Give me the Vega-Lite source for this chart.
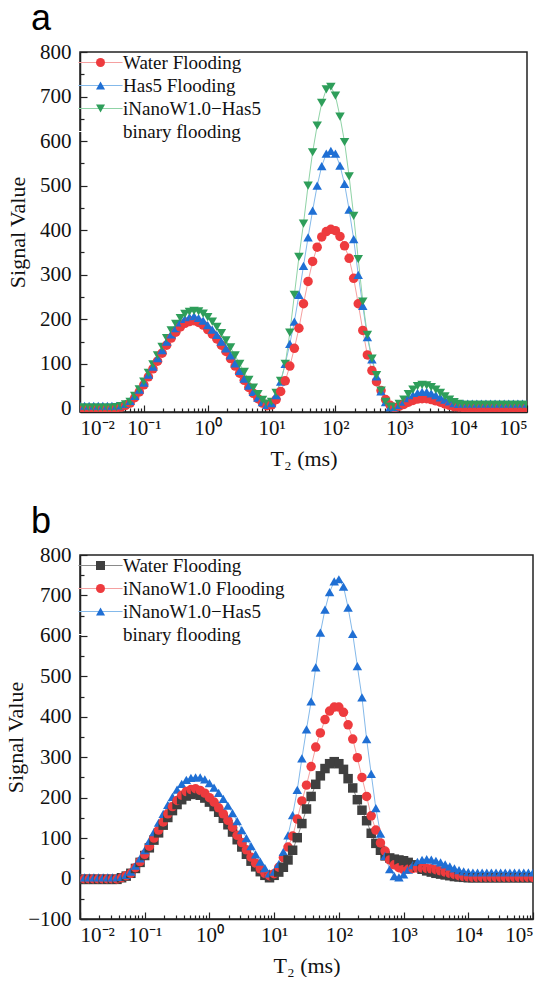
{
  "$schema": "https://vega.github.io/schema/vega-lite/v6.json",
  "padding": {"left": 3, "top": 0, "right": 0, "bottom": 0},
  "spacing": 33,
  "resolve": {
    "scale": {"x": "independent", "y": "independent", "color": "independent", "shape": "independent", "stroke": "independent"},
    "legend": {"color": "independent", "shape": "independent", "stroke": "independent"}
  },
  "config": {
    "view": {"stroke": "#222", "strokeWidth": 1.5},
    "font": "Liberation Serif",
    "title": {"font": "Liberation Sans", "fontSize": 36, "fontWeight": "normal", "color": "#000", "anchor": "start", "frame": "group", "baseline": "alphabetic", "dx": -49, "offset": 3},
    "axis": {"labelFont": "Liberation Serif", "labelFontSize": 21, "titleFont": "Liberation Serif", "titleFontSize": 22, "titleFontWeight": "normal", "labelColor": "#111", "titleColor": "#111", "domainColor": "#222", "tickColor": "#222", "domainWidth": 1.5, "tickWidth": 1.2, "grid": false},
    "legend": {"labelFont": "Liberation Serif", "labelFontSize": 19, "labelColor": "#111", "labelLimit": 0, "title": null, "padding": 0, "rowPadding": 3, "symbolSize": 81, "labelOffset": 13, "orient": "none", "legendX": 11, "legendY": 1}
  },
  "datasets": {
    "a": [
      {"t":0.01,"w":0,"h":6,"i":2},{"t":0.01179,"w":0,"h":6,"i":2},{"t":0.01389,"w":0,"h":6,"i":2},{"t":0.01638,"w":0,"h":6,"i":2},{"t":0.01931,"w":0,"h":6,"i":2},{"t":0.02276,"w":0,"h":6,"i":2},{"t":0.02683,"w":0,"h":6,"i":2},{"t":0.03162,"w":0,"h":6,"i":2},{"t":0.03728,"w":1,"h":6,"i":3},{"t":0.04394,"w":3,"h":7,"i":5},{"t":0.05179,"w":7,"h":10,"i":9},{"t":0.06105,"w":12,"h":17,"i":15},{"t":0.07197,"w":24,"h":28,"i":28},{"t":0.08483,"w":37,"h":42,"i":43},
      {"t":0.1,"w":53,"h":58,"i":60},{"t":0.1179,"w":71,"h":76,"i":80},{"t":0.1389,"w":89,"h":94,"i":99},{"t":0.1638,"w":106,"h":113,"i":119},{"t":0.1931,"w":124,"h":131,"i":138},{"t":0.2276,"w":142,"h":150,"i":158},{"t":0.2683,"w":158,"h":166,"i":175},{"t":0.3162,"w":171,"h":180,"i":190},{"t":0.3728,"w":183,"h":193,"i":203},{"t":0.4394,"w":191,"h":201,"i":212},{"t":0.5179,"w":195,"h":205,"i":217},{"t":0.6105,"w":197,"h":207,"i":219},{"t":0.7197,"w":193,"h":203,"i":218},{"t":0.8483,"w":187,"h":197,"i":213},
      {"t":1,"w":177,"h":187,"i":205},{"t":1.179,"w":167,"h":177,"i":195},{"t":1.389,"w":156,"h":165,"i":183},{"t":1.638,"w":142,"h":150,"i":169},{"t":1.931,"w":128,"h":135,"i":153},{"t":2.276,"w":112,"h":119,"i":137},{"t":2.683,"w":95,"h":101,"i":119},{"t":3.162,"w":79,"h":84,"i":100},{"t":3.728,"w":63,"h":67,"i":82},{"t":4.394,"w":47,"h":51,"i":64},{"t":5.179,"w":34,"h":37,"i":47},{"t":6.105,"w":22,"h":24,"i":32},{"t":7.197,"w":12,"h":14,"i":19},{"t":8.483,"w":6,"h":8,"i":11},
      {"t":10,"w":8,"h":12,"i":15},{"t":11.79,"w":20,"h":30,"i":35},{"t":13.89,"w":38,"h":60,"i":62},{"t":16.38,"w":62,"h":100,"i":100},{"t":19.31,"w":95,"h":145,"i":170},{"t":22.76,"w":135,"h":195,"i":255},{"t":26.83,"w":180,"h":255,"i":340},{"t":31.62,"w":235,"h":320,"i":415},{"t":37.28,"w":285,"h":384,"i":500},{"t":43.94,"w":330,"h":444,"i":575},{"t":51.79,"w":362,"h":500,"i":635},{"t":61.05,"w":385,"h":544,"i":686},{"t":71.97,"w":397,"h":572,"i":716},{"t":84.83,"w":402,"h":578,"i":722},
      {"t":100,"w":399,"h":572,"i":702},{"t":117.9,"w":386,"h":545,"i":655},{"t":138.9,"w":365,"h":504,"i":598},{"t":163.8,"w":337,"h":446,"i":521},{"t":193.1,"w":292,"h":380,"i":432},{"t":227.6,"w":235,"h":300,"i":335},{"t":268.3,"w":175,"h":230,"i":240},{"t":316.2,"w":120,"h":160,"i":165},{"t":372.8,"w":85,"h":110,"i":112},{"t":439.4,"w":60,"h":72,"i":75},{"t":517.9,"w":40,"h":38,"i":40},{"t":610.5,"w":20,"h":14,"i":15},{"t":719.7,"w":7,"h":3,"i":4},{"t":848.3,"w":2,"h":3,"i":3},
      {"t":1000,"w":5,"h":8,"i":10},{"t":1179,"w":9,"h":15,"i":20},{"t":1389,"w":14,"h":23,"i":32},{"t":1638,"w":18,"h":30,"i":42},{"t":1931,"w":21,"h":35,"i":50},{"t":2276,"w":22,"h":37,"i":53},{"t":2683,"w":22,"h":37,"i":52},{"t":3162,"w":20,"h":34,"i":48},{"t":3728,"w":17,"h":30,"i":42},{"t":4394,"w":14,"h":25,"i":35},{"t":5179,"w":10,"h":20,"i":27},{"t":6105,"w":7,"h":16,"i":20},{"t":7197,"w":4,"h":12,"i":14},{"t":8483,"w":3,"h":10,"i":10},
      {"t":10000,"w":2,"h":11,"i":8},{"t":11790,"w":2,"h":11,"i":8},{"t":13890,"w":2,"h":11,"i":8},{"t":16380,"w":2,"h":11,"i":8},{"t":19310,"w":2,"h":11,"i":8},{"t":22760,"w":2,"h":11,"i":8},{"t":26830,"w":2,"h":11,"i":8},{"t":31620,"w":2,"h":11,"i":8},{"t":37280,"w":2,"h":11,"i":8},{"t":43940,"w":2,"h":11,"i":8},{"t":51790,"w":2,"h":11,"i":8},{"t":61050,"w":2,"h":11,"i":8},{"t":71970,"w":2,"h":11,"i":8},{"t":84830,"w":2,"h":11,"i":8},{"t":100000,"w":2,"h":11,"i":8}
    ],
    "b": [
      {"t":0.01,"k":-2,"n":-1,"i":3},{"t":0.01179,"k":-2,"n":-1,"i":3},{"t":0.01389,"k":-2,"n":-1,"i":3},{"t":0.01638,"k":-2,"n":-1,"i":3},{"t":0.01931,"k":-2,"n":-1,"i":3},{"t":0.02276,"k":-2,"n":-1,"i":3},{"t":0.02683,"k":-2,"n":-1,"i":3},{"t":0.03162,"k":-2,"n":-1,"i":3},{"t":0.03728,"k":-2,"n":-1,"i":3},{"t":0.04394,"k":2,"n":2,"i":4},{"t":0.05179,"k":6,"n":7,"i":9},{"t":0.06105,"k":13,"n":13,"i":17},{"t":0.07197,"k":25,"n":27,"i":32},{"t":0.08483,"k":40,"n":42,"i":50},
      {"t":0.1,"k":57,"n":60,"i":70},{"t":0.1179,"k":76,"n":80,"i":93},{"t":0.1389,"k":95,"n":100,"i":115},{"t":0.1638,"k":113,"n":120,"i":138},{"t":0.1931,"k":132,"n":140,"i":160},{"t":0.2276,"k":151,"n":160,"i":182},{"t":0.2683,"k":168,"n":178,"i":202},{"t":0.3162,"k":183,"n":193,"i":220},{"t":0.3728,"k":195,"n":206,"i":234},{"t":0.4394,"k":204,"n":215,"i":244},{"t":0.5179,"k":208,"n":220,"i":249},{"t":0.6105,"k":210,"n":222,"i":250},{"t":0.7197,"k":206,"n":218,"i":250},{"t":0.8483,"k":199,"n":211,"i":245},
      {"t":1,"k":189,"n":200,"i":236},{"t":1.179,"k":178,"n":189,"i":225},{"t":1.389,"k":164,"n":175,"i":212},{"t":1.638,"k":149,"n":160,"i":197},{"t":1.931,"k":133,"n":144,"i":180},{"t":2.276,"k":115,"n":127,"i":162},{"t":2.683,"k":96,"n":107,"i":142},{"t":3.162,"k":78,"n":89,"i":120},{"t":3.728,"k":60,"n":71,"i":100},{"t":4.394,"k":43,"n":53,"i":80},{"t":5.179,"k":29,"n":38,"i":60},{"t":6.105,"k":17,"n":24,"i":42},{"t":7.197,"k":8,"n":13,"i":26},{"t":8.483,"k":2,"n":7,"i":13},
      {"t":10,"k":8,"n":12,"i":17},{"t":11.79,"k":16,"n":28,"i":36},{"t":13.89,"k":28,"n":52,"i":66},{"t":16.38,"k":46,"n":78,"i":107},{"t":19.31,"k":70,"n":105,"i":157},{"t":22.76,"k":101,"n":147,"i":219},{"t":26.83,"k":136,"n":192,"i":297},{"t":31.62,"k":172,"n":231,"i":369},{"t":37.28,"k":203,"n":277,"i":438},{"t":43.94,"k":233,"n":325,"i":522},{"t":51.79,"k":254,"n":360,"i":608},{"t":61.05,"k":272,"n":393,"i":665},{"t":71.97,"k":284,"n":414,"i":708},{"t":84.83,"k":289,"n":424,"i":735},
      {"t":100,"k":284,"n":424,"i":740},{"t":117.9,"k":270,"n":411,"i":722},{"t":138.9,"k":247,"n":380,"i":670},{"t":163.8,"k":224,"n":345,"i":605},{"t":193.1,"k":195,"n":299,"i":525},{"t":227.6,"k":169,"n":250,"i":448},{"t":268.3,"k":143,"n":203,"i":345},{"t":316.2,"k":112,"n":155,"i":259},{"t":372.8,"k":87,"n":120,"i":174},{"t":439.4,"k":70,"n":88,"i":111},{"t":517.9,"k":56,"n":68,"i":56},{"t":610.5,"k":51,"n":46,"i":23},{"t":719.7,"k":48,"n":34,"i":6},{"t":848.3,"k":46,"n":27,"i":3},
      {"t":1000,"k":44,"n":22,"i":10},{"t":1179,"k":40,"n":23,"i":22},{"t":1389,"k":34,"n":25,"i":33},{"t":1638,"k":28,"n":26,"i":41},{"t":1931,"k":23,"n":26,"i":46},{"t":2276,"k":19,"n":25,"i":48},{"t":2683,"k":16,"n":24,"i":47},{"t":3162,"k":13,"n":22,"i":44},{"t":3728,"k":11,"n":19,"i":40},{"t":4394,"k":9,"n":16,"i":35},{"t":5179,"k":7,"n":13,"i":30},{"t":6105,"k":5,"n":10,"i":25},{"t":7197,"k":4,"n":7,"i":21},{"t":8483,"k":3,"n":5,"i":18},
      {"t":10000,"k":2,"n":4,"i":16},{"t":11790,"k":2,"n":3,"i":15},{"t":13890,"k":2,"n":3,"i":15},{"t":16380,"k":2,"n":3,"i":15},{"t":19310,"k":2,"n":3,"i":15},{"t":22760,"k":2,"n":3,"i":15},{"t":26830,"k":2,"n":3,"i":15},{"t":31620,"k":2,"n":3,"i":15},{"t":37280,"k":2,"n":3,"i":15},{"t":43940,"k":2,"n":3,"i":15},{"t":51790,"k":2,"n":3,"i":15},{"t":61050,"k":2,"n":3,"i":15},{"t":71970,"k":2,"n":3,"i":15},{"t":84830,"k":2,"n":3,"i":15},{"t":100000,"k":2,"n":3,"i":15}
    ]
  },
  "vconcat": [
    {
      "width": 447,
      "height": 360,
      "title": {"text": "a"},
      "data": {"name": "a"},
      "transform": [{"fold": ["w", "h", "i"], "as": ["s", "v"]}],
      "encoding": {
        "x": {"field": "t", "type": "quantitative", "scale": {"type": "log", "domain": [0.01, 100000], "nice": false}},
        "y": {"field": "v", "type": "quantitative", "scale": {"domain": [-8, 800], "nice": false, "zero": false}}
      },
      "resolve": {"axis": {"x": "independent", "y": "independent"}},
      "layer": [
        {
          "mark": {"type": "line", "strokeWidth": 1, "clip": true},
          "encoding": {
            "x": {"field": "t", "type": "quantitative", "axis": {"orient": "bottom", "values": [0.01, 0.1, 1, 10, 100, 1000, 10000, 100000], "labelExpr": "datum.value < 0.05 ? '10⁻²' : datum.value < 0.5 ? '10⁻¹' : datum.value < 5 ? '10⁰' : datum.value < 50 ? '10¹' : datum.value < 500 ? '10²' : datum.value < 5000 ? '10³' : datum.value < 50000 ? '10⁴' : '10⁵'", "tickSize": -7, "labelPadding": 12, "title": "T₂ (ms)", "titlePadding": 10}},
            "y": {"field": "v", "type": "quantitative", "axis": {"orient": "left", "values": [0, 100, 200, 300, 400, 500, 600, 700, 800], "tickSize": -7, "labelPadding": 16, "title": "Signal Value", "titlePadding": 10}},
            "stroke": {"field": "s", "type": "nominal", "scale": {"domain": ["w", "h", "i", "y"], "range": ["#f5a0a0", "#84b9ea", "#8fd3a6", "#ffffff"]},
              "legend": {"symbolType": "M-4.9,0H4.9", "symbolStrokeWidth": 1.2, "labelOpacity": 0,
                "labelExpr": "datum.label == 'w' ? 'Water Flooding' : datum.label == 'h' ? 'Has5 Flooding' : datum.label == 'i' ? 'iNanoW1.0−Has5' : 'binary flooding'"}}
          }
        },
        {
          "mark": {"type": "point", "filled": true, "size": 90, "opacity": 1, "clip": true},
          "encoding": {
            "x": {"field": "t", "type": "quantitative", "axis": {"orient": "bottom", "values": [0.02,0.03,0.04,0.05,0.06,0.07,0.08,0.09,0.2,0.3,0.4,0.5,0.6,0.7,0.8,0.9,2,3,4,5,6,7,8,9,20,30,40,50,60,70,80,90,200,300,400,500,600,700,800,900,2000,3000,4000,5000,6000,7000,8000,9000,20000,30000,40000,50000,60000,70000,80000,90000], "labels": false, "domain": false, "tickSize": -4, "title": null}},
            "y": {"field": "v", "type": "quantitative", "axis": {"orient": "left", "values": [50, 150, 250, 350, 450, 550, 650, 750], "labels": false, "domain": false, "tickSize": -4, "title": null}},
            "color": {"field": "s", "type": "nominal", "scale": {"domain": ["w", "h", "i", "x"], "range": ["#ee3b3e", "#1f6fd4", "#2e9e5a", "#ffffff"]},
              "legend": {"labelExpr": "datum.label == 'w' ? 'Water Flooding' : datum.label == 'h' ? 'Has5 Flooding' : datum.label == 'i' ? 'iNanoW1.0−Has5' : 'binary flooding'"}},
            "shape": {"field": "s", "type": "nominal", "scale": {"domain": ["w", "h", "i", "x"], "range": ["circle", "triangle-up", "triangle-down", "circle"]}, "legend": null}
          }
        }
      ]
    },
    {
      "width": 453,
      "height": 364,
      "title": {"text": "b"},
      "data": {"name": "b"},
      "transform": [{"fold": ["k", "n", "i"], "as": ["s", "v"]}],
      "encoding": {
        "x": {"field": "t", "type": "quantitative", "scale": {"type": "log", "domain": [0.01, 100000], "nice": false}},
        "y": {"field": "v", "type": "quantitative", "scale": {"domain": [-100, 800], "nice": false, "zero": false}}
      },
      "resolve": {"axis": {"x": "independent", "y": "independent"}},
      "layer": [
        {
          "mark": {"type": "line", "strokeWidth": 1, "clip": true},
          "encoding": {
            "x": {"field": "t", "type": "quantitative", "axis": {"orient": "bottom", "values": [0.01, 0.1, 1, 10, 100, 1000, 10000, 100000], "labelExpr": "datum.value < 0.05 ? '10⁻²' : datum.value < 0.5 ? '10⁻¹' : datum.value < 5 ? '10⁰' : datum.value < 50 ? '10¹' : datum.value < 500 ? '10²' : datum.value < 5000 ? '10³' : datum.value < 50000 ? '10⁴' : '10⁵'", "tickSize": -7, "labelPadding": 12, "title": "T₂ (ms)", "titlePadding": 10}},
            "y": {"field": "v", "type": "quantitative", "axis": {"orient": "left", "values": [-100, 0, 100, 200, 300, 400, 500, 600, 700, 800], "tickSize": -7, "labelPadding": 16, "title": "Signal Value", "titlePadding": 0}},
            "stroke": {"field": "s", "type": "nominal", "scale": {"domain": ["k", "n", "i", "y"], "range": ["#8a8a8a", "#f5a0a0", "#84b9ea", "#ffffff"]},
              "legend": {"symbolType": "M-4.9,0H4.9", "symbolStrokeWidth": 1.2, "labelOpacity": 0,
                "labelExpr": "datum.label == 'k' ? 'Water Flooding' : datum.label == 'n' ? 'iNanoW1.0 Flooding' : datum.label == 'i' ? 'iNanoW1.0−Has5' : 'binary flooding'"}}
          }
        },
        {
          "mark": {"type": "point", "filled": true, "size": 90, "opacity": 1, "clip": true},
          "encoding": {
            "x": {"field": "t", "type": "quantitative", "axis": {"orient": "bottom", "values": [0.02,0.03,0.04,0.05,0.06,0.07,0.08,0.09,0.2,0.3,0.4,0.5,0.6,0.7,0.8,0.9,2,3,4,5,6,7,8,9,20,30,40,50,60,70,80,90,200,300,400,500,600,700,800,900,2000,3000,4000,5000,6000,7000,8000,9000,20000,30000,40000,50000,60000,70000,80000,90000], "labels": false, "domain": false, "tickSize": -4, "title": null}},
            "y": {"field": "v", "type": "quantitative", "axis": {"orient": "left", "values": [-50, 50, 150, 250, 350, 450, 550, 650, 750], "labels": false, "domain": false, "tickSize": -4, "title": null}},
            "color": {"field": "s", "type": "nominal", "scale": {"domain": ["k", "n", "i", "x"], "range": ["#3f3f3f", "#ee3b3e", "#1f6fd4", "#ffffff"]},
              "legend": {"labelExpr": "datum.label == 'k' ? 'Water Flooding' : datum.label == 'n' ? 'iNanoW1.0 Flooding' : datum.label == 'i' ? 'iNanoW1.0−Has5' : 'binary flooding'"}},
            "shape": {"field": "s", "type": "nominal", "scale": {"domain": ["k", "n", "i", "x"], "range": ["square", "circle", "triangle-up", "circle"]}, "legend": null}
          }
        }
      ]
    }
  ]
}
